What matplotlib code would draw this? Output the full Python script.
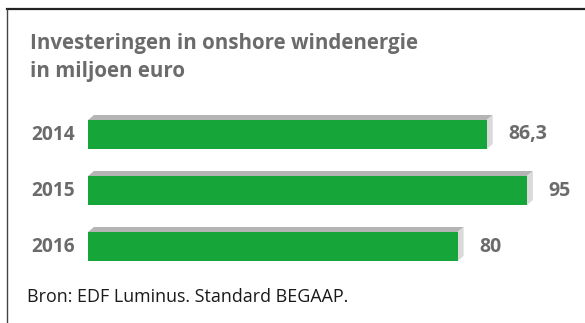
import matplotlib
matplotlib.use("Agg")
import matplotlib.pyplot as plt
from matplotlib.patches import Polygon
from matplotlib.lines import Line2D

# Data
years = ["2014", "2015", "2016"]
investments = [86.3, 95, 80]

title_lines = ["Investeringen in onshore windenergie", "in miljoen euro"]
source = "Bron: EDF Luminus. Standard BEGAAP."

plt.rcParams["font.family"] = ["Open Sans", "DejaVu Sans"]

W, H = 585, 323
fig = plt.figure(figsize=(W / 100, H / 100), dpi=100)
fig.patch.set_facecolor("white")

green = "#16a538"
top_grey = "#b4b4b4"
side_grey = "#dadada"
text_grey = "#6b6b6b"

# Axes: value 0 sits at x=88 px, 4.62 px per unit; 56 px between bars
px_per_unit = 4.62
left_px = 88
row_px = 56
top_px = 106.5
ax = fig.add_axes([left_px / W, (H - (top_px + 3 * row_px)) / H,
                   (W - left_px) / W, 3 * row_px / H])
ax.set_xlim(0, (W - left_px) / px_per_unit)
ax.set_ylim(2.5, -0.5)
ax.axis("off")

bar_h = 29 / row_px
dx = 6 / px_per_unit
dy = 5 / row_px

pos = list(range(len(years)))
ax.barh(pos, investments, height=bar_h, color=green, zorder=3)

for y, v in zip(pos, investments):
    yt = y - bar_h / 2
    yb = y + bar_h / 2
    top = Polygon([(0, yt), (v, yt), (v + dx, yt - dy), (dx, yt - dy)],
                  closed=True, facecolor=top_grey, edgecolor="none", zorder=2)
    side = Polygon([(v, yb), (v, yt), (v + dx, yt - dy), (v + dx, yb - dy)],
                   closed=True, facecolor=side_grey, edgecolor="none", zorder=2)
    ax.add_patch(top)
    ax.add_patch(side)
    label = f"{v:g}".replace(".", ",")
    ax.annotate(label, xy=(v, y), xytext=(15.5, 0), textcoords="offset points",
                ha="left", va="center", fontsize=14, fontweight="bold",
                color=text_grey)
    ax.text(-13 / px_per_unit, y, years[y], ha="right", va="center",
            fontsize=13.8, fontweight="bold", color=text_grey)

# Title and source
fig.text(30 / W, 1 - 43 / H, title_lines[0], ha="left", va="center",
         fontsize=14.8, fontweight="bold", color=text_grey)
fig.text(30 / W, 1 - 72 / H, title_lines[1], ha="left", va="center",
         fontsize=14.8, fontweight="bold", color=text_grey)
fig.text(27 / W, 1 - 297 / H, source, ha="left", va="center",
         fontsize=12.9, color="#1a1a1a")

# Frame: top and left rules
fig.add_artist(Line2D([7 / W, 1], [1 - 9 / H, 1 - 9 / H], color="#222222",
                      linewidth=1.6))
fig.add_artist(Line2D([7 / W, 7 / W], [0, 1 - 9 / H], color="#444444",
                      linewidth=1.0))

fig.savefig("out.png", dpi=100)
